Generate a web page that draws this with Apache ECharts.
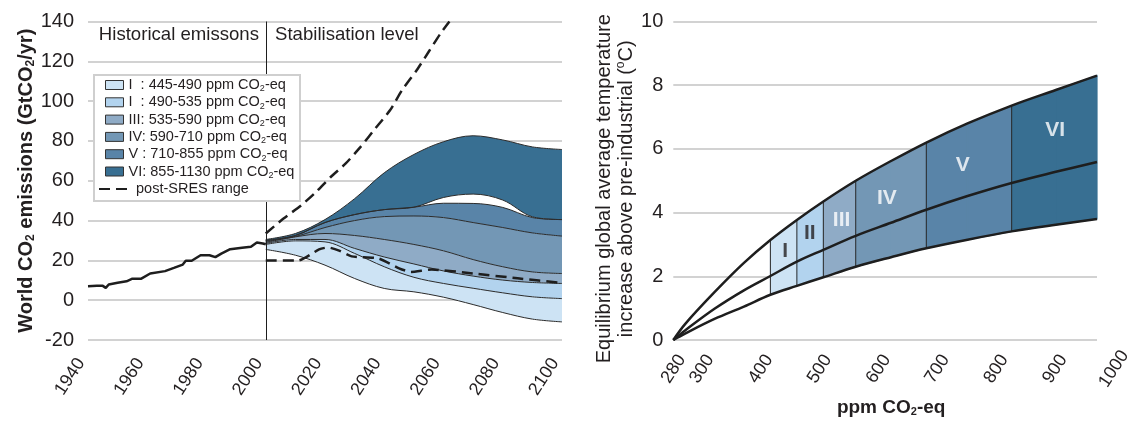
<!DOCTYPE html>
<html>
<head>
<meta charset="utf-8">
<script src="https://cdn.jsdelivr.net/npm/echarts@6/dist/echarts.min.js"></script>
<style>html,body{margin:0;padding:0;background:#fff}#c{width:1141px;height:424px}</style>
</head>
<body>
<div id="c"></div>
<script>
// ---------------- Left panel data ----------------
const histYears  = [1940,1943,1945,1946,1947,1950,1953,1955,1958,1961,1966,1969,1972,1973,1975,1978,1981,1983,1985,1988,1992,1995,1997,1999,2000];
const histValues = [7.0,7.2,7.2,6.2,7.9,8.8,9.5,10.8,10.8,13.4,14.6,16.2,17.9,19.8,19.8,22.6,22.6,21.6,23.4,25.6,26.3,26.8,29.0,28.5,28.1];

// decade categories used to stack the stabilisation bands
const bandCategories = ['1940','1950','1960','1970','1980','1990','2000','2010','2020','2030','2040','2050','2060','2070','2080','2090','2100'];
const stabYears = [2000,2010,2020,2030,2040,2050,2060,2070,2080,2090,2100];
const edgeILow  = [25.5,22.6,17.6,10.9,5.9,4.2,1.5,-2.2,-6.2,-9.5,-10.9];
const edgeIHigh = [28.0,29.8,29.3,23.5,16.8,11.5,8.4,6.0,3.7,1.7,0.8];
const edgeIIHigh = [28.5,30.5,30.5,26.0,21.7,18.2,14.7,12.1,10.1,8.9,8.4];
const edgeIIIHigh = [29.0,31.8,33.5,32.5,30.5,28.0,24.8,20.4,16.8,14.2,13.4];
const edgeIVHigh = [29.5,32.0,36.5,40.0,42.0,42.3,41.5,39.0,36.5,33.8,32.2];
const edgeVHigh  = [30.0,32.5,39.0,43.0,45.5,46.7,48.7,48.6,46.6,41.5,40.5];
const edgeVILow  = [30.0,32.5,39.0,43.0,45.5,46.7,51.6,53.3,50.3,41.9,40.5];
const edgeVIHigh = [30.5,33.5,40.5,51.0,64.0,73.2,79.6,82.6,80.5,77.0,75.7];

const sresUpYears  = [2000,2006,2012,2017,2022,2027,2032,2037,2042,2046,2051,2055,2059,2062];
const sresUpValues = [33.5,41.0,47.7,54.4,62.0,68.7,77.0,86.3,95.5,105.5,115.6,124.8,134.0,140.0];
const sresLowYears  = [2000,2011,2018,2021,2025,2029,2038,2045,2049,2056,2070,2085,2100];
const sresLowValues = [20.0,20.0,25.5,26.5,24.8,22.0,21.0,16.0,14.2,15.4,13.4,11.0,8.7];

const regionNames = [
  'I  : 445-490 ppm CO2-eq',
  'I  : 490-535 ppm CO2-eq',
  'III: 535-590 ppm CO2-eq',
  'IV: 590-710 ppm CO2-eq',
  'V : 710-855 ppm CO2-eq',
  'VI: 855-1130 ppm CO2-eq'
];
const sresName = 'post-SRES range';

// ---------------- Right panel data ----------------
const ppm      = [280,300,350,400,445,490,535,590,650,710,780,855,930,1000];
const tempHigh = [0,0.5,1.5,2.42,3.14,3.77,4.35,5.0,5.62,6.2,6.8,7.36,7.85,8.3];
const tempMid  = [0,0.3,0.98,1.56,2.01,2.46,2.83,3.27,3.68,4.09,4.52,4.93,5.28,5.59];
const tempLow  = [0,0.2,0.66,1.05,1.42,1.70,1.97,2.30,2.60,2.88,3.15,3.41,3.62,3.80];
const regionEdges = [445,490,535,590,710,855,1000];
const regionLabels = ['I','II','III','IV','V','VI'];
const labelPpm  = [470,512,566,643,772,929];
const labelTemp = [2.78,3.36,3.77,4.46,5.5,6.6];
const ppmTicks = [280,300,400,500,600,700,800,900,1000];

// ---------------- Styles ----------------
const FONT = '"Liberation Sans", Arial, Helvetica, sans-serif';
const TXT = '#231f20';
const GRIDC = '#d2d2d2';
const regionColors = ['#cde3f4','#b2d3ee','#8fabc6','#7397b5','#5984a8','#386f92'];
const bandLine = {color:'#2b2b2b', width:1};

function pairs(xs, ys){ return xs.map((x,i)=>[x, ys[i]]); }
const edges = [edgeILow, edgeIHigh, edgeIIHigh, edgeIIIHigh, edgeIVHigh, edgeVHigh, edgeVILow, edgeVIHigh];
function bandData(k){
  return bandCategories.map(c => {
    const i = stabYears.indexOf(+c);
    if (i < 0) return '-';
    return k === 0 ? edges[0][i] : +(edges[k][i]-edges[k-1][i]).toFixed(3);
  });
}

const series = [];
const stackBase = {type:'line', xAxisIndex:2, yAxisIndex:0, stack:'stab', stackStrategy:'all',
  smooth:0.35, symbol:'none', lineStyle:bandLine, z:2, silent:true};
series.push(Object.assign({}, stackBase, {name:'edge', data:bandData(0)}));
for (let k=1;k<=5;k++){
  series.push(Object.assign({}, stackBase, {name:regionNames[k-1], data:bandData(k),
    itemStyle:{color:regionColors[k-1]}, areaStyle:{color:regionColors[k-1], opacity:1}}));
}
series.push(Object.assign({}, stackBase, {name:'gap', data:bandData(6)}));
series.push(Object.assign({}, stackBase, {name:regionNames[5], data:bandData(7),
  itemStyle:{color:regionColors[5]}, areaStyle:{color:regionColors[5], opacity:1}}));

series.push({type:'line', name:'Historical', xAxisIndex:0, yAxisIndex:0, data:pairs(histYears,histValues),
  symbol:'none', lineStyle:{color:'#1e1e1e', width:2.5}, z:4, silent:true,
  markLine:{symbol:'none', silent:true, label:{show:false}, lineStyle:{color:'#1e1e1e', width:1, type:'solid'},
    data:[{xAxis:2000}]}});
const dashStyle = {color:'#1e1e1e', width:2.5, type:[11,6]};
series.push({type:'line', name:sresName, xAxisIndex:0, yAxisIndex:0, data:pairs(sresUpYears,sresUpValues),
  symbol:'none', smooth:0.2, lineStyle:dashStyle, itemStyle:{color:'#1e1e1e'}, z:4, silent:true});
series.push({type:'line', name:sresName, xAxisIndex:0, yAxisIndex:0, data:pairs(sresLowYears,sresLowValues),
  symbol:'none', smooth:0.2, lineStyle:dashStyle, itemStyle:{color:'#1e1e1e'}, z:4, silent:true});

// right band
const tempBand = ppm.map((x,i)=>[x, tempLow[i], tempHigh[i]]);
series.push({type:'custom', xAxisIndex:1, yAxisIndex:1, data:tempBand, z:2, silent:true,
  renderItem: function(params, api){
    const i = params.dataIndexInside;
    const x0 = api.value(0);
    if (i >= ppm.length-1 || x0 < regionEdges[0]) return null;
    const x1 = api.value(0, i+1);
    let r = 0;
    while (r < regionEdges.length-2 && x0 >= regionEdges[r+1]) r++;
    const p0 = api.coord([x0, api.value(1)]);
    const p1 = api.coord([x0, api.value(2)]);
    const p2 = api.coord([x1, api.value(2, i+1)]);
    const p3 = api.coord([x1, api.value(1, i+1)]);
    const children = [{type:'polygon', shape:{points:[p0,p1,p2,p3]},
      style:{fill:regionColors[r], stroke:regionColors[r], lineWidth:1.2}}];
    if (regionEdges.indexOf(x0) >= 0) {
      children.push({type:'line', shape:{x1:p0[0], y1:p0[1], x2:p1[0], y2:p1[1]},
        style:{stroke:'#2b2b2b', lineWidth:1}});
    }
    return {type:'group', children:children};
  }});
[tempHigh, tempMid, tempLow].forEach((arr, j)=>{
  series.push({type:'line', name:'curve'+j, xAxisIndex:1, yAxisIndex:1, data:pairs(ppm, arr),
    symbol:'none', smooth:0.35, lineStyle:{color:'#1e1e1e', width:2.5}, z:4, silent:true});
});
series.push({type:'scatter', xAxisIndex:1, yAxisIndex:1, symbolSize:0.01, silent:true, z:5,
  itemStyle:{color:'rgba(0,0,0,0)'},
  data: labelPpm.map((x,i)=>({value:[x,labelTemp[i]], name:regionLabels[i],
    label:{color: i<2 ? TXT : '#ffffff'}})),
  label:{show:true, position:'inside', formatter:'{b}', fontSize:21, fontWeight:'bold', fontFamily:FONT}});

const option = {
  animation:false,
  backgroundColor:'#ffffff',
  textStyle:{fontFamily:FONT, color:TXT},
  grid:[
    {left:88, right:579, top:21.5, bottom:84, outerBoundsMode:'none', containLabel:false},
    {left:673.3, right:44, top:21.5, bottom:84, outerBoundsMode:'none', containLabel:false}
  ],
  xAxis:[
    {gridIndex:0, type:'value', min:1940, max:2100, interval:20,
      axisLine:{show:false}, axisTick:{show:false}, splitLine:{show:false},
      axisLabel:{rotate:57, align:'center', verticalAlign:'middle', padding:[0,66,0,0], margin:9,
        fontSize:18, color:TXT, fontFamily:FONT, formatter: v => String(v)}},
    {gridIndex:1, type:'value', min:280, max:1000,
      axisLine:{show:false}, axisTick:{show:false}, splitLine:{show:false},
      axisLabel:{customValues:ppmTicks, rotate:57, align:'center', verticalAlign:'middle', margin:55,
        fontSize:18, color:TXT, fontFamily:FONT,
        formatter: v => v===280 ? '{f|280}' : '{n|'+v+'}',
        rich:{n:{padding:[0,0,0,62], fontSize:18, color:TXT, fontFamily:FONT},
              f:{padding:[0,0,28,44], fontSize:18, color:TXT, fontFamily:FONT}}},
      name:'ppm CO{s|2}-eq', nameLocation:'middle', nameGap:57,
      nameTextStyle:{fontSize:19, fontWeight:'bold', color:TXT, fontFamily:FONT, padding:[0,0,0,12],
        rich:{s:{fontSize:11, fontWeight:'bold', verticalAlign:'bottom', color:TXT, fontFamily:FONT}}}},
    {gridIndex:0, type:'category', data:bandCategories, boundaryGap:false, show:false}
  ],
  yAxis:[
    {gridIndex:0, type:'value', min:-20, max:140, interval:20,
      axisLine:{show:false}, axisTick:{show:false},
      splitLine:{lineStyle:{color:GRIDC, width:2}},
      axisLabel:{fontSize:20, color:TXT, margin:14, fontFamily:FONT},
      name:'World CO{s|2} emissions (GtCO{s|2}/yr)', nameLocation:'middle', nameGap:50,
      nameTextStyle:{fontSize:20, fontWeight:'bold', color:TXT, fontFamily:FONT,
        rich:{s:{fontSize:12, fontWeight:'bold', verticalAlign:'bottom', color:TXT, fontFamily:FONT}}}},
    {gridIndex:1, type:'value', min:0, max:10, interval:2,
      axisLine:{show:false}, axisTick:{show:false},
      splitLine:{lineStyle:{color:GRIDC, width:2}},
      axisLabel:{fontSize:20, color:TXT, margin:10, fontFamily:FONT},
      name:'Equilibrium global average temperature\nincrease above pre-industrial ({sup|o}C)',
      nameLocation:'middle', nameGap:35,
      nameTextStyle:{fontSize:20, lineHeight:22, color:TXT, fontFamily:FONT, padding:[0,16,0,0],
        rich:{sup:{fontSize:12, verticalAlign:'top', color:TXT, fontFamily:FONT}}}}
  ],
  legend:[
    {data: regionNames.map((n,i)=>({name:n, icon:'rect',
        itemStyle:{color:regionColors[i], borderColor:'#333', borderWidth:1}})),
      orient:'vertical', left:105, top:76.5, padding:0, itemWidth:18, itemHeight:9, itemGap:0.3, itemTextGap:13,
      selectedMode:false, z:120,
      formatter: n => n.replace('CO2','CO{s|2}'),
      textStyle:{fontSize:14.5, lineHeight:17, color:TXT, fontFamily:FONT,
        rich:{s:{fontSize:9, verticalAlign:'bottom', lineHeight:12, color:TXT, fontFamily:FONT}}}},
    {data:[{name:sresName, itemStyle:{opacity:0, color:'rgba(0,0,0,0)', borderWidth:0}}],
      orient:'vertical', left:98, top:180.5, padding:0,
      itemWidth:32, itemHeight:9, itemTextGap:4, selectedMode:false, z:120,
      textStyle:{fontSize:14.5, lineHeight:17, color:TXT, fontFamily:FONT}}
  ],
  graphic:[
    {type:'rect', shape:{x:94, y:75, width:206, height:126}, style:{fill:'#ffffff', stroke:'#cfcfcf', lineWidth:2}, z:100, silent:true},
    {type:'text', x:259, y:35, style:{text:'Historical emissons', align:'right', verticalAlign:'middle', fontSize:18.6, fill:TXT, fontFamily:FONT}, z:100, silent:true},
    {type:'text', x:275, y:35, style:{text:'Stabilisation level', align:'left', verticalAlign:'middle', fontSize:18.6, fill:TXT, fontFamily:FONT}, z:100, silent:true}
  ],
  series: series
};
const chart = echarts.init(document.getElementById('c'));
chart.setOption(option);
</script>
</body>
</html>
